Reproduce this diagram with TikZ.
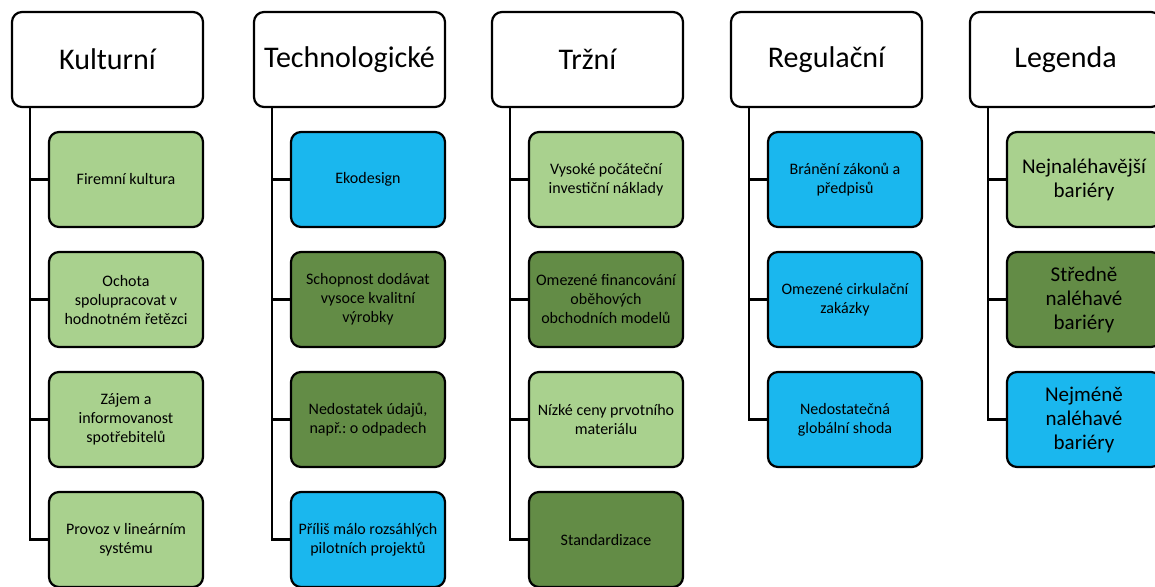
\documentclass[tikz,border=0pt]{standalone}
\usepackage{fontspec}
\setmainfont{Carlito}
\usetikzlibrary{positioning}
\definecolor{svetla}{HTML}{A9D18E}
\definecolor{tmava}{HTML}{638C46}
\definecolor{modra}{HTML}{1AB7EE}
\tikzset{
  hlava/.style={draw,line width=2.2pt,rounded corners=10pt,fill=white,
    minimum width=191pt,minimum height=95pt,font=\fontsize{30}{36}\selectfont},
  bariera/.style={draw,line width=2.2pt,rounded corners=10pt,
    minimum width=154pt,minimum height=95pt,align=center,
    font=\fontsize{16}{19}\selectfont},
  legbox/.style={bariera,font=\fontsize{21}{24}\selectfont},
  vetev/.style={line width=2.2pt}
}
\frenchspacing
\begin{document}
\begin{tikzpicture}[x=1pt,y=-1pt]
\useasboundingbox (0,0) rectangle (1155,586);
%záhlaví sloupců
\node[hlava] (kult) at (107.5,59.5) {Kulturní};
\node[hlava] (tech) at (349.5,59.5) {Technologické};
\node[hlava] (trh) at (587.5,59.5) {Tržní};
\node[hlava] (reg) at (826.5,59.5) {Regulační};
\node[hlava] (leg) at (1065.5,59.5) {Legenda};
%Kulturní
\node[bariera,fill=svetla] (k1) at (126,179.5) {Firemní kultura};
\node[bariera,fill=svetla] (k2) at (126,299.5) {Ochota\\spolupracovat v\\hodnotném řetězci};
\node[bariera,fill=svetla] (k3) at (126,419.5) {Zájem a\\informovanost\\spotřebitelů};
\node[bariera,fill=svetla] (k4) at (126,539.5) {Provoz v lineárním\\systému};
%Technologické
\node[bariera,fill=modra] (t1) at (368,179.5) {Ekodesign};
\node[bariera,fill=tmava] (t2) at (368,299.5) {Schopnost dodávat\\vysoce kvalitní\\výrobky};
\node[bariera,fill=tmava] (t3) at (368,419.5) {Nedostatek údajů,\\např.: o odpadech};
\node[bariera,fill=modra] (t4) at (368,539.5) {Příliš málo rozsáhlých\\pilotních projektů};
%Tržní
\node[bariera,fill=svetla] (r1) at (606,179.5) {Vysoké počáteční\\investiční náklady};
\node[bariera,fill=tmava] (r2) at (606,299.5) {Omezené financování\\oběhových\\obchodních modelů};
\node[bariera,fill=svetla] (r3) at (606,419.5) {Nízké ceny prvotního\\materiálu};
\node[bariera,fill=tmava] (r4) at (606,539.5) {Standardizace};
%Regulační
\node[bariera,fill=modra] (g1) at (845,179.5) {Bránění zákonů a\\předpisů};
\node[bariera,fill=modra] (g2) at (845,299.5) {Omezené cirkulační\\zakázky};
\node[bariera,fill=modra] (g3) at (845,419.5) {Nedostatečná\\globální shoda};
%Legenda
\node[legbox,fill=svetla] (l1) at (1084,179.5) {Nejnaléhavější\\bariéry};
\node[legbox,fill=tmava] (l2) at (1084,299.5) {Středně\\naléhavé\\bariéry};
\node[legbox,fill=modra] (l3) at (1084,419.5) {Nejméně\\naléhavé\\bariéry};
%větve
\foreach \h/\a/\b/\c/\d in {kult/k1/k2/k3/k4,tech/t1/t2/t3/t4,trh/r1/r2/r3/r4}{
  \draw[vetev] ([xshift=19pt]\h.south west) |- (\d.west);
  \foreach \x in {\a,\b,\c}
    \draw[vetev] ([xshift=19pt]\h.south west) |- (\x.west);
}
\foreach \h/\a/\b/\c in {reg/g1/g2/g3,leg/l1/l2/l3}{
  \draw[vetev] ([xshift=19pt]\h.south west) |- (\c.west);
  \foreach \x in {\a,\b}
    \draw[vetev] ([xshift=19pt]\h.south west) |- (\x.west);
}
\end{tikzpicture}
\end{document}
